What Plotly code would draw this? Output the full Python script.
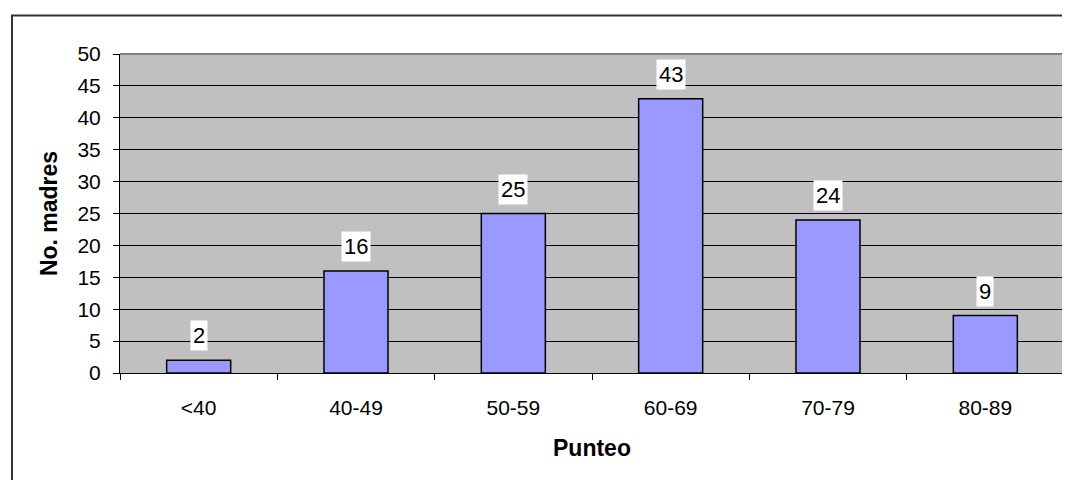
import plotly.graph_objects as go

categories = ["<40", "40-49", "50-59", "60-69", "70-79", "80-89"]
counts = [2, 16, 25, 43, 24, 9]
y_ticks = [0, 5, 10, 15, 20, 25, 30, 35, 40, 45, 50]
x_title = "Punteo"
y_title = "No. madres"

FONT = "Liberation Sans, Arial, sans-serif"

# figure sized so that it fits the window exactly after the page's 8px body margin
W, H = 1062, 472
ML, MR, MT, MB = 112, 6, 45.5, 106.5
PW = W - ML - MR
PH = H - MT - MB

fig = go.Figure()
fig.add_trace(go.Bar(
    x=categories, y=counts,
    marker=dict(color="#9999FF", line=dict(color="#000000", width=1.5)),
    hoverinfo="x+y",
))

for c, v in zip(categories, counts):
    fig.add_annotation(
        x=c, y=v, text=str(v), showarrow=False,
        yanchor="bottom", yshift=9,
        bgcolor="#FFFFFF", borderpad=2,
        font=dict(family=FONT, size=22, color="#000000"),
    )

# outer chart frame (runs off the right and bottom edges)
fx0 = (4 - ML) / PW
fy1 = 1 + (MT - 7) / PH
fig.add_shape(type="rect", xref="paper", yref="paper",
              x0=fx0, x1=1.05, y0=-0.5, y1=fy1,
              line=dict(color="#333333", width=2), fillcolor="rgba(0,0,0,0)",
              layer="below")
# plot area top/right border (gray)
fig.add_shape(type="line", xref="paper", yref="paper",
              x0=0, x1=1, y0=1, y1=1, line=dict(color="#808080", width=2))
fig.add_shape(type="line", xref="paper", yref="paper",
              x0=1, x1=1, y0=-6 / PH, y1=1, line=dict(color="#808080", width=2))

fig.update_layout(
    width=W, height=H,
    margin=dict(l=ML, r=MR, t=MT, b=MB),
    paper_bgcolor="#FFFFFF", plot_bgcolor="#C0C0C0",
    bargap=0.593,
    showlegend=False,
    font=dict(family=FONT, size=21, color="#000000"),
    xaxis=dict(
        type="category",
        showline=True, linecolor="#000000", linewidth=1,
        ticks="outside", ticklen=6, tickcolor="#000000", tickson="boundaries",
        showgrid=False, zeroline=False,
        tickfont=dict(family=FONT, size=21, color="#000000"),
        ticklabelstandoff=16,
        title=dict(text="<b>" + x_title + "</b>", standoff=21,
                   font=dict(family=FONT, size=23, color="#000000")),
    ),
    yaxis=dict(
        range=[0, 50], tickvals=y_ticks,
        showline=True, linecolor="#000000", linewidth=1,
        ticks="outside", ticklen=6, tickcolor="#000000",
        showgrid=True, gridcolor="#000000", gridwidth=1,
        zeroline=False,
        tickfont=dict(family=FONT, size=21, color="#000000"),
        ticklabelstandoff=8,
        title=dict(text="<b>" + y_title + "</b>", standoff=13,
                   font=dict(family=FONT, size=23, color="#000000")),
    ),
)

fig.write_html("out.html")
